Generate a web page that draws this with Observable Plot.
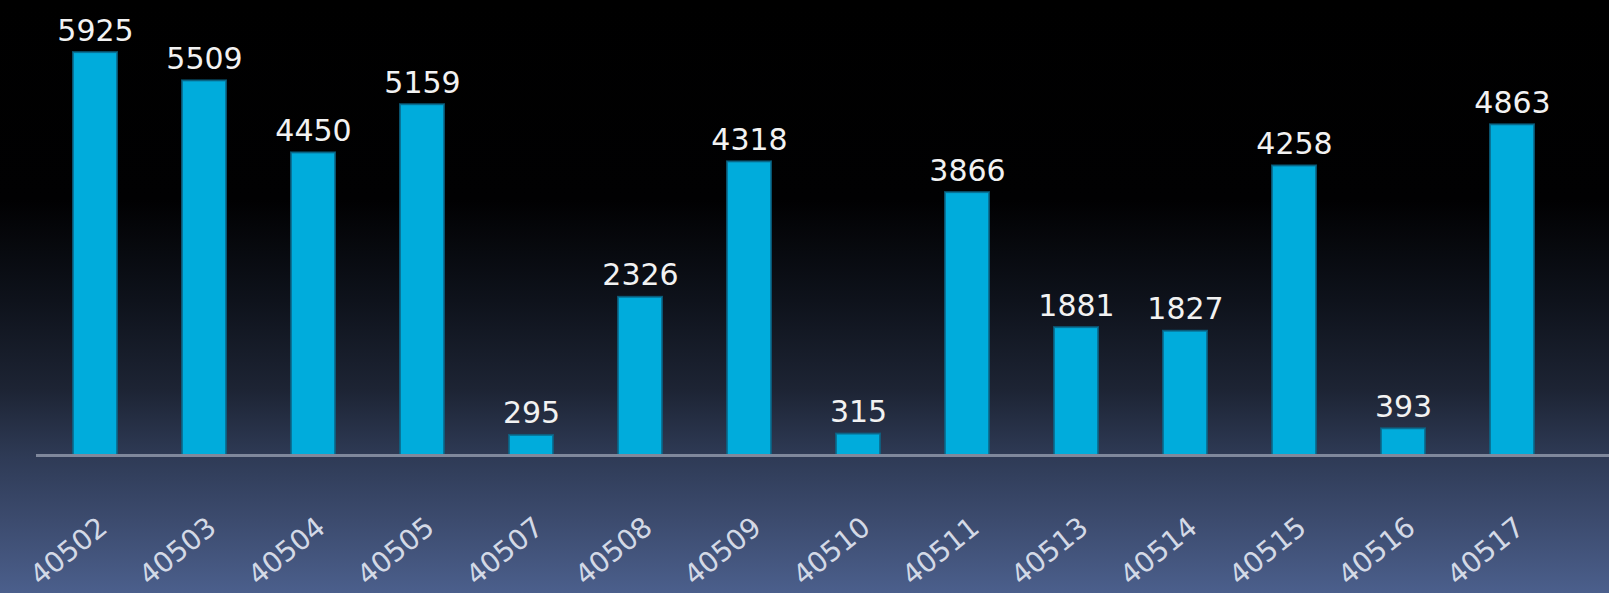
<!DOCTYPE html>
<html>
<head>
<meta charset="utf-8">
<script src="https://cdn.jsdelivr.net/npm/d3@7"></script>
<script src="https://cdn.jsdelivr.net/npm/@observablehq/plot@0.6"></script>
<style>
  html, body { margin: 0; padding: 0; }
  body {
    width: 1609px; height: 593px; overflow: hidden;
    background: linear-gradient(to bottom, #000000 0px, #010102 200px, #0e121b 300px, #1d2434 390px, #2e3a55 455px, #3c4b6e 520px, #4b5f8c 593px);
  }
  svg { display: block; }
</style>
</head>
<body>
<div id="chart"></div>
<script>
const categories = ["40502","40503","40504","40505","40507","40508","40509","40510","40511","40513","40514","40515","40516","40517"];
const values = [5925, 5509, 4450, 5159, 295, 2326, 4318, 315, 3866, 1881, 1827, 4258, 393, 4863];

const data = categories.map((c, i) => ({cat: c, value: values[i]}));

const chart = Plot.plot({
  width: 1609,
  height: 593,
  marginTop: 47,
  marginBottom: 138,
  marginLeft: 36,
  marginRight: 0,
  style: {background: "transparent", overflow: "visible"},
  x: {domain: categories, paddingInner: 0.6, paddingOuter: 0.47, align: 0.33, label: null},
  y: {domain: [0, 6000], axis: null},
  marks: [
    Plot.barY(data, {x: "cat", y: "value", fill: "#00acdc", stroke: "#0a6688", strokeWidth: 2, strokeOpacity: 0.8}),
    Plot.ruleY([0], {stroke: "#7f889c", strokeWidth: 3}),
    Plot.text(data, {x: "cat", y: "value", text: d => String(d.value), lineAnchor: "bottom", dy: -12,
      fill: "#f2f2f2", fontSize: 30, fontFamily: "DejaVu Sans", style: "letter-spacing:3px"}),
    Plot.axisX({tickSize: 0, tickPadding: 0, tickRotate: -39, dy: 68, dx: 8, fontSize: 28,
      fontFamily: "DejaVu Sans", fill: "#d3d9e6", label: null, style: "letter-spacing:2px"})
  ]
});
document.getElementById("chart").appendChild(chart);
</script>
</body>
</html>
